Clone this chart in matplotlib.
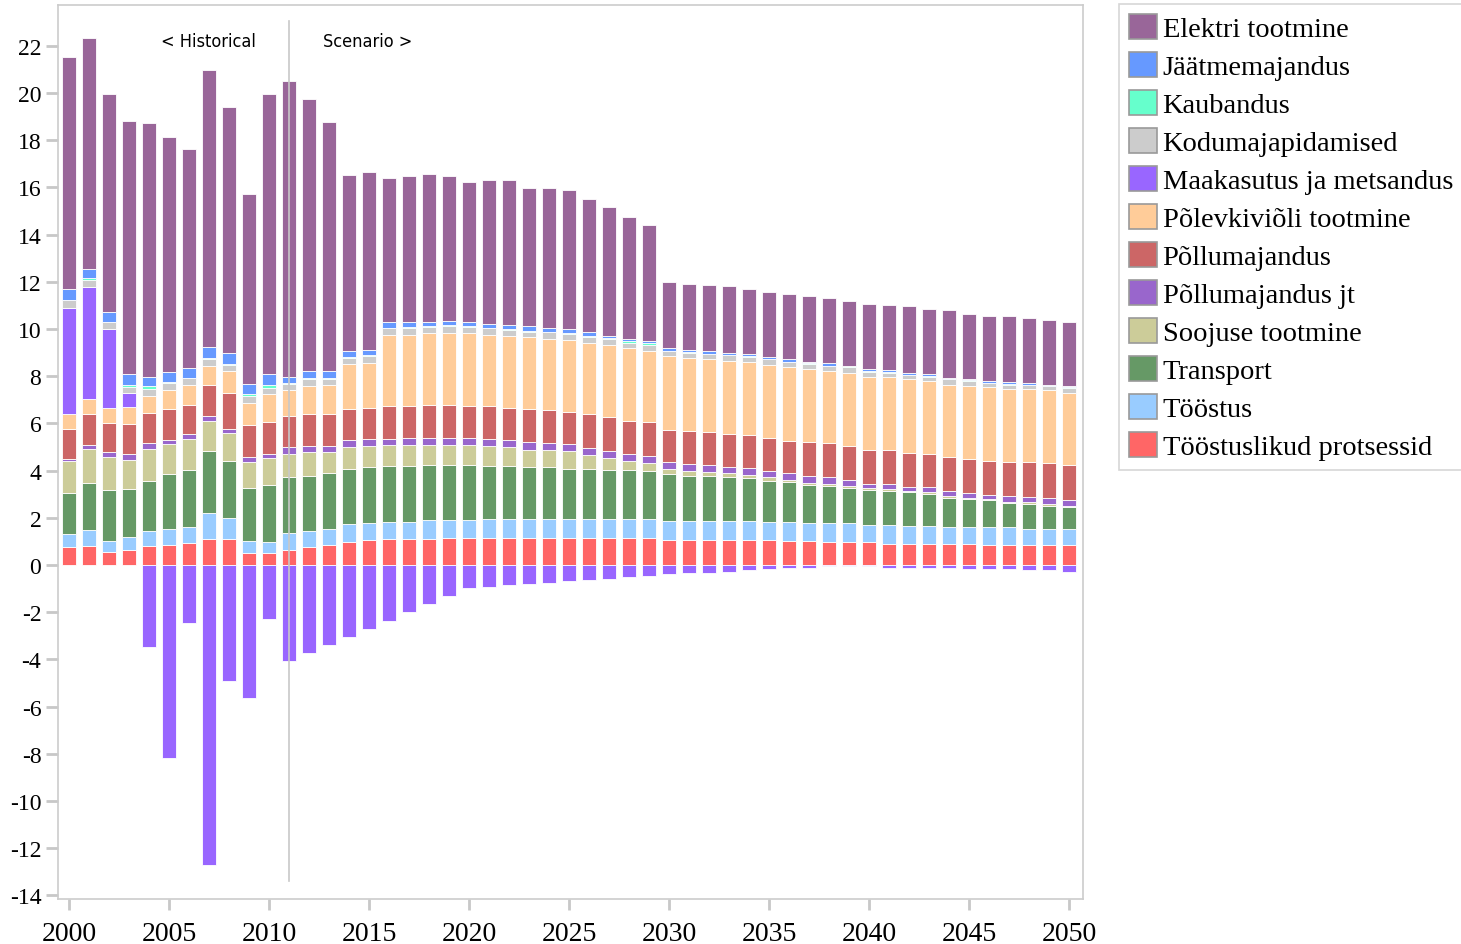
import matplotlib
matplotlib.use("Agg")
import matplotlib.pyplot as plt
from matplotlib.patches import Patch
import numpy as np

plt.rcParams['axes.unicode_minus'] = False

years = list(range(2000, 2051))

toostuslikud = [0.75, 0.81, 0.56, 0.64, 0.81, 0.86, 0.92, 1.09, 1.09, 0.52, 0.52, 0.64, 0.75, 0.86, 0.99, 1.05, 1.10, 1.10, 1.10, 1.16,
                1.16, 1.16, 1.16, 1.16, 1.16, 1.16, 1.16, 1.16, 1.16, 1.16, 1.08, 1.07, 1.07, 1.07, 1.07, 1.07, 1.02, 1.02, 0.96, 0.96,
                0.96, 0.90, 0.90, 0.90, 0.90, 0.90, 0.85, 0.85, 0.85, 0.85, 0.85]
toostus = [0.56, 0.67, 0.46, 0.56, 0.62, 0.68, 0.69, 1.13, 0.92, 0.50, 0.44, 0.73, 0.68, 0.68, 0.73, 0.73, 0.74, 0.74, 0.79, 0.73,
           0.73, 0.79, 0.79, 0.79, 0.79, 0.79, 0.79, 0.79, 0.79, 0.79, 0.80, 0.81, 0.81, 0.81, 0.81, 0.75, 0.80, 0.75, 0.81, 0.81,
           0.75, 0.81, 0.75, 0.75, 0.70, 0.70, 0.75, 0.75, 0.69, 0.69, 0.69]
transport = [1.73, 2.01, 2.14, 2.01, 2.13, 2.30, 2.40, 2.60, 2.41, 2.24, 2.42, 2.36, 2.36, 2.36, 2.36, 2.36, 2.35, 2.35, 2.36, 2.36,
             2.36, 2.24, 2.24, 2.19, 2.19, 2.13, 2.13, 2.08, 2.08, 2.02, 1.97, 1.91, 1.91, 1.85, 1.79, 1.74, 1.68, 1.62, 1.56, 1.51,
             1.48, 1.44, 1.43, 1.37, 1.25, 1.20, 1.14, 1.03, 1.06, 0.97, 0.92]
soojuse = [1.37, 1.44, 1.42, 1.25, 1.37, 1.30, 1.31, 1.30, 1.19, 1.09, 1.14, 0.96, 1.01, 0.90, 0.91, 0.90, 0.91, 0.91, 0.85, 0.85,
           0.85, 0.85, 0.80, 0.73, 0.73, 0.74, 0.57, 0.50, 0.39, 0.34, 0.21, 0.21, 0.15, 0.15, 0.16, 0.15, 0.10, 0.10, 0.10, 0.07,
           0.06, 0.06, 0.06, 0.06, 0.06, 0.05, 0.06, 0.05, 0.06, 0.06, 0.05]
pollum_jt = [0.10, 0.17, 0.22, 0.23, 0.24, 0.17, 0.24, 0.18, 0.17, 0.23, 0.17, 0.30, 0.23, 0.23, 0.29, 0.30, 0.24, 0.30, 0.30, 0.30,
             0.30, 0.30, 0.29, 0.36, 0.30, 0.29, 0.29, 0.30, 0.30, 0.29, 0.29, 0.28, 0.28, 0.29, 0.28, 0.29, 0.28, 0.28, 0.28, 0.25,
             0.18, 0.22, 0.18, 0.24, 0.24, 0.19, 0.18, 0.24, 0.24, 0.28, 0.23]
pollum = [1.27, 1.31, 1.23, 1.27, 1.26, 1.29, 1.21, 1.33, 1.51, 1.34, 1.38, 1.31, 1.38, 1.38, 1.33, 1.33, 1.38, 1.32, 1.38, 1.38,
          1.32, 1.38, 1.39, 1.38, 1.38, 1.39, 1.44, 1.44, 1.38, 1.45, 1.39, 1.40, 1.40, 1.39, 1.40, 1.40, 1.39, 1.44, 1.45, 1.44,
          1.44, 1.44, 1.44, 1.38, 1.44, 1.44, 1.44, 1.44, 1.45, 1.46, 1.50]
polevkivi = [0.63, 0.64, 0.62, 0.73, 0.75, 0.80, 0.87, 0.80, 0.92, 0.96, 1.16, 1.10, 1.16, 1.22, 1.89, 1.89, 3.04, 3.04, 3.04, 3.04,
             3.10, 3.04, 3.03, 3.04, 3.04, 3.03, 3.04, 3.04, 3.09, 3.03, 3.10, 3.09, 3.09, 3.10, 3.09, 3.09, 3.11, 3.11, 3.05, 3.11,
             3.11, 3.11, 3.11, 3.11, 3.05, 3.10, 3.11, 3.11, 3.09, 3.09, 3.05]
maakasutus = [4.49, 4.74, 3.34, 0.60, -3.49, -8.19, -2.44, -12.71, -4.93, -5.65, -2.29, -4.05, -3.72, -3.38, -3.04, -2.70, -2.36,
              -2.01, -1.67, -1.33, -0.97, -0.92, -0.86, -0.81, -0.75, -0.69, -0.64, -0.58, -0.52, -0.45, -0.40, -0.34, -0.34,
              -0.28, -0.23, -0.17, -0.11, -0.11, -0.06, -0.03, -0.03, -0.11, -0.11, -0.11, -0.11, -0.17, -0.17, -0.17, -0.23,
              -0.23, -0.28]
kodumaja = [0.33, 0.29, 0.32, 0.27, 0.28, 0.30, 0.27, 0.30, 0.28, 0.30, 0.28, 0.26, 0.31, 0.25, 0.29, 0.28, 0.27, 0.27, 0.26, 0.32,
            0.26, 0.27, 0.27, 0.24, 0.27, 0.27, 0.23, 0.25, 0.23, 0.23, 0.22, 0.23, 0.23, 0.22, 0.23, 0.22, 0.22, 0.20, 0.22, 0.23,
            0.22, 0.17, 0.17, 0.17, 0.23, 0.20, 0.17, 0.17, 0.17, 0.17, 0.22]
kaubandus = [0.00, 0.08, 0.00, 0.07, 0.11, 0.04, 0.00, 0.04, 0.04, 0.05, 0.12, 0.04, 0.06, 0.06, 0.02, 0.06, 0.00, 0.05, 0.06, 0.04,
             0.06, 0.03, 0.03, 0.04, 0.03, 0.04, 0.05, 0.06, 0.06, 0.08, 0.03, 0.03, 0.02, 0.02, 0.02, 0.02, 0.02, 0.04, 0.02, 0.04,
             0.02, 0.03, 0.02, 0.02, 0.02, 0.06, 0.02, 0.02, 0.02, 0.02, 0.03]
jaatme = [0.46, 0.40, 0.41, 0.45, 0.40, 0.45, 0.45, 0.45, 0.47, 0.45, 0.45, 0.27, 0.27, 0.27, 0.24, 0.22, 0.25, 0.20, 0.14, 0.16,
          0.14, 0.17, 0.17, 0.18, 0.17, 0.16, 0.19, 0.08, 0.11, 0.09, 0.10, 0.08, 0.09, 0.10, 0.09, 0.10, 0.09, 0.04, 0.10, 0.03,
          0.10, 0.08, 0.09, 0.09, 0.03, 0.03, 0.09, 0.09, 0.07, 0.04, 0.03]
elektri = [9.82, 9.76, 9.25, 10.73, 10.74, 9.95, 9.25, 11.74, 10.39, 8.04, 11.89, 12.53, 11.54, 10.55, 7.49, 7.52, 6.13, 6.19,
           6.30, 6.13, 5.96, 6.07, 6.13, 5.85, 5.90, 5.90, 5.60, 5.46, 5.16, 4.93, 2.81, 2.81, 2.81, 2.81, 2.75, 2.75, 2.76, 2.81,
           2.75, 2.74, 2.75, 2.76, 2.81, 2.76, 2.87, 2.75, 2.75, 2.79, 2.78, 2.74, 2.74]

# stacking order bottom -> top (legend shows it reversed)
series = [
    ("Tööstuslikud protsessid", toostuslikud, "#ff6666"),
    ("Tööstus", toostus, "#99ccff"),
    ("Transport", transport, "#669966"),
    ("Soojuse tootmine", soojuse, "#cccc99"),
    ("Põllumajandus jt", pollum_jt, "#9966cc"),
    ("Põllumajandus", pollum, "#cc6666"),
    ("Põlevkiviõli tootmine", polevkivi, "#ffcc99"),
    ("Maakasutus ja metsandus", maakasutus, "#9966ff"),
    ("Kodumajapidamised", kodumaja, "#cccccc"),
    ("Kaubandus", kaubandus, "#66ffcc"),
    ("Jäätmemajandus", jaatme, "#6699ff"),
    ("Elektri tootmine", elektri, "#996699"),
]

fig = plt.figure(figsize=(14.61, 9.45), dpi=100)
ax = fig.add_axes([58/1461, 1-900/945, (1083-58)/1461, (900-6)/945])

x = np.array(years, dtype=float)
pos_bottom = np.zeros(len(years))
neg_bottom = np.zeros(len(years))
for name, vals, col in series:
    v = np.array(vals, dtype=float)
    bottom = np.where(v >= 0, pos_bottom, neg_bottom)
    ax.bar(x, v, bottom=bottom, width=0.7, color=col, edgecolor='white', linewidth=0.6, zorder=2)
    pos_bottom = pos_bottom + np.where(v >= 0, v, 0)
    neg_bottom = neg_bottom + np.where(v < 0, v, 0)

ax.set_xlim(1999.45, 2050.7)
ax.set_ylim(-14.15, 23.73)
ax.set_yticks(range(-14, 23, 2))
ax.set_xticks(range(2000, 2051, 5))

for s in ax.spines.values():
    s.set_color('#cccccc')
    s.set_linewidth(1.2)

ax.tick_params(axis='y', direction='out', length=9, width=2, color='#c8c8c8', pad=3)
ax.tick_params(axis='x', direction='out', length=8, width=2, color='#c8c8c8', pad=8)
for lab in ax.get_yticklabels():
    lab.set_fontfamily('Liberation Serif')
    lab.set_fontsize(17)
for lab in ax.get_xticklabels():
    lab.set_fontfamily('Liberation Serif')
    lab.set_fontsize(20)

ax.plot([2011, 2011], [23.05, -13.39], color='#c8c8c8', linewidth=1.2, zorder=3)
ax.text(2006.95, 22.2, "< Historical", ha='center', va='center', fontsize=13,
        family='DejaVu Sans', fontstretch='condensed')
ax.text(2014.95, 22.2, "Scenario >", ha='center', va='center', fontsize=13,
        family='DejaVu Sans', fontstretch='condensed')

handles = [Patch(facecolor=col, edgecolor='#999999', linewidth=1.2, label=name)
           for name, vals, col in reversed(series)]
leg = fig.legend(handles=handles, loc='upper left', bbox_to_anchor=(1119/1461, 1-5/945),
                 prop={'family': 'Liberation Serif', 'size': 20.5}, frameon=True, fancybox=False,
                 edgecolor='#cccccc', handlelength=0.98, handleheight=0.98, handletextpad=0.2,
                 labelspacing=0.34, borderpad=0.35, borderaxespad=0)
leg.get_frame().set_linewidth(1.2)

fig.savefig("out.png", dpi=100)
